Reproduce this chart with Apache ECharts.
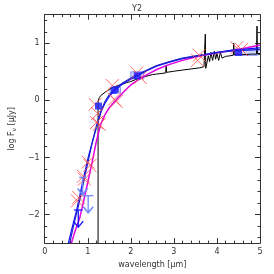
<!DOCTYPE html>
<html><head><meta charset="utf-8">
<script src="https://cdn.jsdelivr.net/npm/echarts@6/dist/echarts.min.js"></script>
<style>html,body{margin:0;padding:0;background:#fff}#c{width:274px;height:274px}</style>
</head><body><div id="c"></div>
<script>
const title = "Y2";
const xTicks = [0,1,2,3,4,5];
const yTicks = [-2,-1,0,1];
const yMinorTicks = [-2.4,-2.2,-1.8,-1.6,-1.4,-1.2,-0.8,-0.6,-0.4,-0.2,0.2,0.4,0.6,0.8,1.2,1.4];
// model spectrum (black)
const blackModel = [[1.24,-2.5],[1.24,-0.01],[1.27,0.05],[1.31,0.09],[1.4,0.14],[1.5,0.19],[1.6,0.23],[1.7,0.26],[1.8,0.28],[1.9,0.31],[2.0,0.33],[2.1,0.36],[2.2,0.39],[2.3,0.41],[2.4,0.43],[2.5,0.45],[2.6,0.46],[2.7,0.47],[2.81,0.48],[2.82,0.62],[2.83,0.49],[3.0,0.51],[3.2,0.53],[3.4,0.55],[3.6,0.57],[3.7,0.59],[3.72,0.62],[3.73,1.16],[3.74,0.56],[3.77,0.58],[3.8,0.78],[3.83,0.68],[3.86,0.84],[3.9,0.7],[3.94,0.86],[3.97,0.72],[4.0,0.82],[4.04,0.7],[4.08,0.84],[4.12,0.74],[4.2,0.77],[4.3,0.78],[4.38,0.79],[4.39,1.0],[4.4,0.8],[4.6,0.8],[4.8,0.81],[4.92,0.81],[4.93,1.3],[4.94,0.82],[5.0,0.82]];
const blueModel1 = [[0.55,-2.5],[0.63,-2.25],[0.73,-1.96],[0.8,-1.72],[0.88,-1.43],[0.95,-1.2],[1.02,-0.97],[1.1,-0.75],[1.17,-0.56],[1.25,-0.35],[1.32,-0.18],[1.4,-0.05],[1.5,0.07],[1.6,0.15],[1.7,0.22],[1.8,0.28],[1.9,0.33],[2.0,0.37],[2.2,0.45],[2.4,0.53],[2.6,0.6],[2.9,0.67],[3.2,0.73],[3.5,0.77],[3.7,0.8],[4.0,0.84],[4.36,0.88],[4.7,0.9],[5.0,0.92]];
const blueModel2 = [[0.58,-2.5],[0.7,-2.1],[0.8,-1.8],[0.9,-1.45],[1.0,-1.1],[1.1,-0.75],[1.2,-0.45],[1.3,-0.2],[1.4,-0.02],[1.5,0.1],[1.6,0.18],[1.8,0.3],[2.0,0.39],[2.2,0.47],[2.4,0.54],[2.6,0.61],[2.9,0.68],[3.2,0.74],[3.5,0.78],[3.8,0.81],[4.1,0.85],[4.5,0.87],[5.0,0.89]];
const magentaModel = [[0.62,-2.5],[0.7,-2.3],[0.81,-2.07],[0.95,-1.61],[1.1,-1.09],[1.2,-0.72],[1.3,-0.42],[1.4,-0.25],[1.5,-0.13],[1.6,-0.04],[1.7,0.04],[1.8,0.12],[1.9,0.2],[2.0,0.27],[2.2,0.37],[2.4,0.46],[2.6,0.54],[2.9,0.63],[3.2,0.7],[3.5,0.76],[3.7,0.79],[4.0,0.83],[4.4,0.88],[4.7,0.92],[5.0,0.97]];
// synthetic photometry (red crosses)
const redCross = [[0.79,-1.70],[0.76,-1.76],[0.92,-1.38],[0.9,-1.33],[1.01,-1.08],[1.05,-1.14],[1.17,-0.07],[1.23,-0.23],[1.27,-0.42],[1.2,-0.39],[1.57,0.26],[1.66,-0.02],[1.62,0.02],[2.14,0.48],[2.22,0.40],[3.55,0.70],[3.59,0.79],[4.46,0.92],[4.57,0.89]];
// observed photometry
const obsSquare = [[1.25,-0.10],[2.15,0.43],[4.5,0.84]];
const obsCircle = [[1.63,0.18]];
// error boxes [xlo,xhi,ylo,yhi]
const errBoxes = [[1.52,1.76,0.13,0.23],[2.0,2.3,0.38,0.5],[4.4,4.95,0.79,0.89]];
// upper limits [x, y, halfwidth(um), color index]
const upperLimits = [[0.78,-1.92,0.1,0],[0.88,-1.35,0.08,1],[1.01,-1.67,0.12,1]];

const chart = echarts.init(document.getElementById('c'));
const font = 'DejaVu Sans';
const C = '#333';
function axisPair(kind, pos, major, minor, extra){
  const base = {type: 'value', position: pos, splitLine: {show: false}};
  const a = Object.assign({}, base, {
    axisLine: {onZero: false, lineStyle: {color: C, width: 1}},
    axisTick: {inside: true, length: 5, customValues: major, lineStyle: {color: C}},
    axisLabel: {show: false}
  }, extra || {});
  const b = Object.assign({}, base, {
    axisLine: {show: false, onZero: false},
    axisTick: {inside: true, length: 2.5, customValues: minor, lineStyle: {color: C}},
    axisLabel: {show: false}
  });
  if (kind === 'x') { a.min = b.min = 0; a.max = b.max = 5; }
  else { a.min = b.min = -2.5; a.max = b.max = 1.5; }
  return [a, b];
}
const xMinor = [];
for (let i = 0; i <= 25; i++) if (i % 5) xMinor.push(i / 5);
const fmt = v => String(v).replace('-', '−');
const xAxes = [].concat(
  axisPair('x', 'bottom', xTicks, xMinor, {
    name: 'wavelength [μm]', nameLocation: 'middle', nameGap: 15,
    nameTextStyle: {fontFamily: font, fontSize: 8, color: C},
    axisLabel: {show: true, customValues: xTicks, fontFamily: font, fontSize: 8, color: C, margin: 5}}),
  axisPair('x', 'top', xTicks, xMinor)
);
const yAxes = [].concat(
  axisPair('y', 'left', yTicks, yMinorTicks, {
    name: '{a|log F}{s|ν}{a| [μJy]}', nameLocation: 'middle', nameGap: 21, nameRotate: 90,
    nameTextStyle: {rich: {a: {fontFamily: font, fontSize: 8, color: C}, s: {fontFamily: font, fontSize: 6, color: C, padding: [4,0,0,0]}}},
    axisLabel: {show: true, customValues: yTicks, formatter: fmt, fontFamily: font, fontSize: 8, color: C, margin: 5}}),
  axisPair('y', 'right', yTicks, yMinorTicks)
);
const limColors = ['#1a1aff','#6f86ff'];
chart.setOption({
  animation: false,
  title: {text: title, left: 'center', top: 0, textStyle: {fontFamily: font, fontSize: 8, fontWeight: 'normal', color: C}},
  grid: {left: 29.5, right: 14, top: 14.7, bottom: 29.7},
  xAxis: xAxes,
  yAxis: yAxes,
  series: [
    {type: 'custom', renderItem: (p, api) => {
        const b = errBoxes[p.dataIndex];
        const a = api.coord([b[0], b[3]]), c = api.coord([b[1], b[2]]);
        return {type: 'rect', shape: {x: a[0], y: a[1], width: c[0]-a[0], height: c[1]-a[1]},
          style: {fill: 'rgba(120,140,255,0.35)', stroke: '#7f93ff', lineWidth: 1}};
      }, data: errBoxes.map(b => [b[0], b[2]]), z: 1},
    {type: 'line', data: blackModel, showSymbol: false, lineStyle: {color: '#000', width: 1}, z: 2},
    {type: 'line', data: magentaModel, showSymbol: false, lineStyle: {color: '#e000e0', width: 1.5}, z: 3},
    {type: 'line', data: blueModel1, showSymbol: false, lineStyle: {color: '#1010ff', width: 1.2}, z: 4},
    {type: 'line', data: blueModel2, showSymbol: false, lineStyle: {color: '#2222cc', width: 1.2}, z: 4},
    {type: 'scatter', data: redCross, symbol: 'path://M0,0L10,10M10,0L0,10', symbolSize: 13,
      itemStyle: {color: 'none', borderColor: '#ff4848', borderWidth: 1}, z: 5},
    {type: 'scatter', data: obsSquare, symbol: 'rect', symbolSize: 7, itemStyle: {color: '#1a1aff'}, z: 6},
    {type: 'scatter', data: obsCircle, symbol: 'circle', symbolSize: 8, itemStyle: {color: '#1a1aff'}, z: 6},
    {type: 'custom', renderItem: (p, api) => {
        const u = upperLimits[p.dataIndex];
        const top = api.coord([u[0], u[1]]);
        const l = api.coord([u[0]-u[2], u[1]]), r = api.coord([u[0]+u[2], u[1]]);
        const tip = api.coord([u[0], u[1]-0.3]);
        const col = limColors[u[3]];
        const hw = 5, hh = 6;
        return {type: 'group', children: [
          {type: 'line', shape: {x1: l[0], y1: l[1], x2: r[0], y2: r[1]}, style: {stroke: col, lineWidth: 1.3}},
          {type: 'line', shape: {x1: top[0], y1: top[1], x2: tip[0], y2: tip[1]}, style: {stroke: col, lineWidth: 1.3}},
          {type: 'polyline', shape: {points: [[tip[0]-hw, tip[1]-hh],[tip[0], tip[1]],[tip[0]+hw, tip[1]-hh]]}, style: {stroke: col, lineWidth: 1.5, fill: 'none'}}
        ]};
      }, data: upperLimits.map(u => [u[0], u[1]]), z: 7}
  ]
});
</script></body></html>
